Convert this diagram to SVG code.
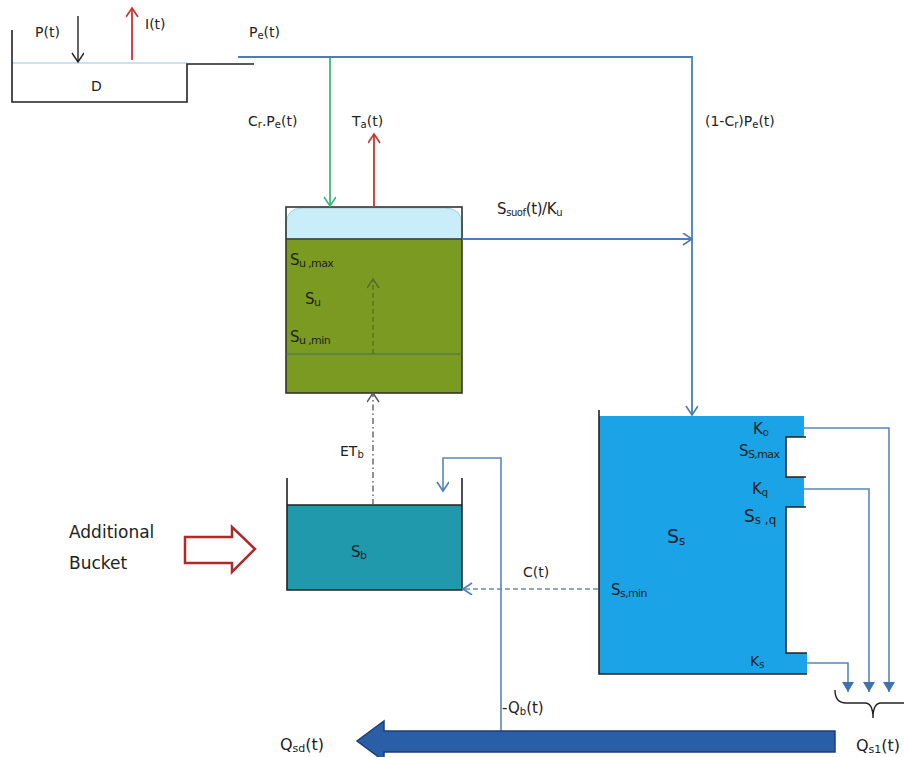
<svg xmlns="http://www.w3.org/2000/svg" width="904" height="757" viewBox="0 0 904 757">
<defs>
<marker id="chevB" markerUnits="userSpaceOnUse" markerWidth="14" markerHeight="14" refX="10" refY="6" orient="auto"><path d="M1,0 L10,6 L1,12" fill="none" stroke="#4a7ebb" stroke-width="1.6"/></marker>
<marker id="chevG" markerUnits="userSpaceOnUse" markerWidth="14" markerHeight="14" refX="10" refY="6" orient="auto"><path d="M1,0 L10,6 L1,12" fill="none" stroke="#3cb878" stroke-width="1.6"/></marker>
<marker id="chevR" markerUnits="userSpaceOnUse" markerWidth="14" markerHeight="14" refX="10" refY="6" orient="auto"><path d="M1,0 L10,6 L1,12" fill="none" stroke="#d03030" stroke-width="1.6"/></marker>
<marker id="chevK" markerUnits="userSpaceOnUse" markerWidth="14" markerHeight="14" refX="10" refY="6" orient="auto"><path d="M1,0 L10,6 L1,12" fill="none" stroke="#222" stroke-width="1.4"/></marker>
<marker id="chevO" markerUnits="userSpaceOnUse" markerWidth="14" markerHeight="14" refX="10" refY="6" orient="auto"><path d="M1,0 L10,6 L1,12" fill="none" stroke="#556b2f" stroke-width="1.4"/></marker>
<marker id="chevD" markerUnits="userSpaceOnUse" markerWidth="14" markerHeight="14" refX="10" refY="6" orient="auto"><path d="M1,0 L10,6 L1,12" fill="none" stroke="#555" stroke-width="1.4"/></marker>
<marker id="tri" markerUnits="userSpaceOnUse" markerWidth="14" markerHeight="14" refX="10" refY="6" orient="auto"><path d="M0,0 L10,6 L0,12 Z" fill="#3f72b0"/></marker>
<style>
text{font-family:"DejaVu Sans","Liberation Sans",sans-serif;fill:#222;}
.t{font-size:14px;}
.s{font-size:10px;}
.lbl{font-size:15px;letter-spacing:-0.6px;}
.ls{font-size:11px;}
.blue{fill:none;stroke:#4a7ebb;stroke-width:1.8;}
.out{fill:none;stroke:#5b86b8;stroke-width:1.6;}
.wall{fill:none;stroke:#222;stroke-width:1.6;}
</style>
</defs>

<g id="surface-D">
<line x1="12" y1="63" x2="187" y2="63" stroke="#9cc4d8" stroke-width="1.2"/>
<path class="wall" d="M12,30 V102 H187 V64 H254"/>
<text class="t" x="91" y="91">D</text>
<text class="t" x="35" y="37">P(t)</text>
<text class="t" x="145" y="29">I(t)</text>
</g>

<g id="unsat-Su">
<rect x="286" y="239" width="176" height="154" fill="#7a9a21"/>
<path d="M286,239 V225 Q286,208 303,208 H445 Q462,208 462,225 V239 Z" fill="#c9eefa" stroke="#9fcfe0" stroke-width="1"/>
<rect x="286" y="207" width="176" height="186" fill="none" stroke="#333" stroke-width="1.6"/>
<line x1="286" y1="239" x2="462" y2="239" stroke="#333" stroke-width="1.4"/>
<line x1="286" y1="354" x2="462" y2="354" stroke="#3f6a72" stroke-width="1.2"/>
<text class="lbl" x="290" y="265">S<tspan class="ls" dy="2">u ,max</tspan></text>
<text class="lbl" x="305" y="304">S<tspan class="ls" dy="2">u</tspan></text>
<text class="lbl" x="290" y="342">S<tspan class="ls" dy="2">u ,min</tspan></text>
</g>

<g id="bucket-Sb">
<rect x="287" y="505" width="175" height="85" fill="#2199ad"/>
<path class="wall" d="M287,478 V590 H462 V478"/>
<line x1="287" y1="505" x2="462" y2="505" stroke="#222" stroke-width="1.4"/>
<text class="lbl" x="351" y="557">S<tspan class="ls" dy="2">b</tspan></text>
</g>

<g id="sat-Ss">
<path d="M599,416 H804 V437 H786 V477 H804 V507 H786 V653 H807 V674 H599 Z" fill="#1aa3e6"/>
<path class="wall" d="M599,410 V674 H807"/>
<path class="wall" d="M806,437 H786 V477 H806"/>
<path class="wall" d="M806,507 H786 V653 H807"/>
<text x="753" y="434" font-size="15">K<tspan font-size="10" dy="2">o</tspan></text>
<text x="739" y="456" font-size="15" letter-spacing="-0.6">S<tspan font-size="11" dy="2">S,max</tspan></text>
<text x="752" y="494" font-size="15">K<tspan font-size="10" dy="2">q</tspan></text>
<text x="744" y="522" font-size="17">S<tspan font-size="12" dy="2">s ,q</tspan></text>
<text x="667" y="543" font-size="19">S<tspan font-size="12" dy="2">s</tspan></text>
<text x="611" y="595" font-size="15" letter-spacing="-0.6">S<tspan font-size="11" dy="2">s,min</tspan></text>
<text x="750" y="666" font-size="14" fill="#1f3f70">K<tspan font-size="10" dy="2">s</tspan></text>
</g>

<g id="additional">
<text x="69" y="538" font-family="Lato,'Open Sans',sans-serif" font-size="17">Additional</text>
<text x="69" y="569" font-family="Lato,'Open Sans',sans-serif" font-size="17">Bucket</text>
<path d="M185,537 H232 V527 L255,549 L232,572 V563 H185 Z" fill="#fff" stroke="#b02a2a" stroke-width="2.5" stroke-linejoin="miter"/>
</g>

<g id="connectors">
<path class="blue" d="M238,57 H692 V415" marker-end="url(#chevB)"/>
<path d="M330,58 V206" fill="none" stroke="#3cb878" stroke-width="1.8" marker-end="url(#chevG)"/>
<path d="M374,207 V134" fill="none" stroke="#d03030" stroke-width="1.8" marker-end="url(#chevR)"/>
<path d="M78,16 V62" fill="none" stroke="#222" stroke-width="1.4" marker-end="url(#chevK)"/>
<path d="M132,60 V8" fill="none" stroke="#d03030" stroke-width="1.8" marker-end="url(#chevR)"/>
<path class="blue" d="M462,239 H692" marker-end="url(#chevB)"/>
<path d="M373,354 V279" fill="none" stroke="#556b2f" stroke-width="1.3" stroke-dasharray="5,3" marker-end="url(#chevO)"/>
<path d="M373,505 V393" fill="none" stroke="#555" stroke-width="1.3" stroke-dasharray="6,3,1.5,3" marker-end="url(#chevD)"/>
<path d="M598,589 H463" fill="none" stroke="#6a8ab0" stroke-width="1.5" stroke-dasharray="5,3" marker-end="url(#chevB)"/>
<path class="out" d="M501,731 V458 H443 V491" marker-end="url(#chevB)"/>
<path class="out" d="M804,428 H889 V692" marker-end="url(#tri)"/>
<path class="out" d="M804,489 H869 V692" marker-end="url(#tri)"/>
<path class="out" d="M807,663 H848 V692" marker-end="url(#tri)"/>
<path d="M835,690 Q835,703 846,703 H865 Q873,703 873,718 Q873,703 881,703 H904" fill="none" stroke="#222" stroke-width="1.4"/>
<polygon points="835,731 384,731 384,721 357,741 384,761 384,752 835,752" fill="#2a5fa8" stroke="#1c3f78" stroke-width="1.5"/>
<text class="t" x="248" y="126">C<tspan class="s" dy="2">r</tspan><tspan dy="-2">.P</tspan><tspan class="s" dy="2">e</tspan><tspan dy="-2">(t)</tspan></text>
<text class="t" x="352" y="126">T<tspan class="s" dy="2">a</tspan><tspan dy="-2">(t)</tspan></text>
<text class="t" x="249" y="37">P<tspan class="s" dy="2">e</tspan><tspan dy="-2">(t)</tspan></text>
<text class="t" x="705" y="126">(1-C<tspan class="s" dy="2">r</tspan><tspan dy="-2">)P</tspan><tspan class="s" dy="2">e</tspan><tspan dy="-2">(t)</tspan></text>
<text x="497" y="214" font-size="15" letter-spacing="-0.4">S<tspan class="s" dy="2">suof</tspan><tspan dy="-2">(t)/K</tspan><tspan class="s" dy="2">u</tspan></text>
<text class="t" x="340" y="456">ET<tspan class="s" dy="2">b</tspan></text>
<text class="t" x="523" y="577">C(t)</text>
<text x="502" y="713" font-size="15">-Q<tspan class="s" dy="2">b</tspan><tspan dy="-2">(t)</tspan></text>
<text x="280" y="750" font-size="16">Q<tspan font-size="11" dy="2">sd</tspan><tspan dy="-2">(t)</tspan></text>
<text x="856" y="751" font-size="16">Q<tspan font-size="11" dy="2">s1</tspan><tspan dy="-2">(t)</tspan></text>
</g>
</svg>
